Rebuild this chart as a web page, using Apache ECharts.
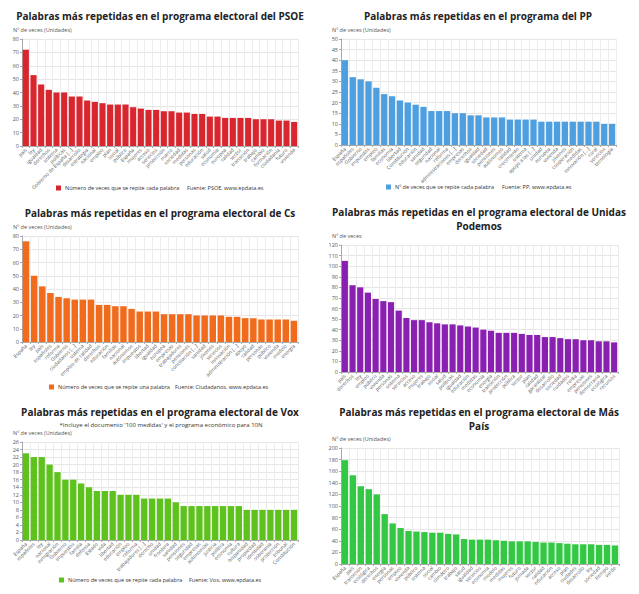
<!DOCTYPE html>
<html><head><meta charset="utf-8">
<script src="https://cdn.jsdelivr.net/npm/echarts@6/dist/echarts.min.js"></script>
<style>html,body{margin:0;padding:0;background:#fff}#c{width:639px;height:594px}</style>
</head><body><div id="c"></div>
<script>
// ---------- DATA ----------
const psoeWords = ['país','ley','igualdad','derechos','sistema','políticas','Gobierno de España [...]','desarrollo','estrategia','nacional','empleo','plan','social','público','España','mujeres','acceso','servicios','protección','marco','sociedad','medidas','personas','educación','salud','economía','europea','calidad','sector','transición','trabajo','cambio','formación','ciudadanía','futuro','vivienda'];
const psoeValues = [72,53,46,42,40,40,37,37,34,33,32,31,31,31,29,28,27,27,26,26,25,25,24,24,22,22,21,21,21,21,20,20,20,19,19,18];

const ppWords = ['España','españoles','Gobierno','impuestos','empleo','familias','economía','libertad','Constitución','educación','sanidad','seguridad','nacional','reforma','administraciones [...]','empresas','derechos','igualdad','sociedad','pensiones','autónomos','calidad','crecimiento','sistema','apoyo a las [...]','unidad','europea','vivienda','jóvenes','cooperación','medidas','innovación [...]','rural','servicios','tecnología'];
const ppValues = [40,32,31,30,27,24,23,21,20,19,18,16,16,16,15,15,14,14,13,13,13,12,12,12,12,11,11,11,11,11,11,11,11,10,10];

const csWords = ['España','ley','país','españoles','reforma','Gobierno','ciudadanos [...]','sistema','empleo de calidad','derechos','educación','familias','nacional','autónomos','impuestos','libertad','igualdad','europea','empresas','trabajadores','pensiones','conciliación [...]','sanidad','jóvenes','servicios','innovación','administración [...]','apoyo','calidad','personas','público','vivienda','modelo','energía'];
const csValues = [76,50,42,37,34,33,32,32,32,28,28,27,27,25,23,23,23,21,21,21,21,20,20,20,20,19,19,18,18,17,17,17,17,16];

const podWords = ['país','derechos','ley','empleo','público','vivienda','personas','sistema','servicios','acceso','mujeres','trabajo','social','salud','políticas','igualdad','educación','medidas','economía','energía','transición','protección','pública','sector','plan','calidad','garantizar','desarrollo','sociedad','cuidados','renta','empresas','pensiones','democracia','ecológica','recursos'];
const podValues = [105,82,80,75,69,67,66,58,51,49,49,47,46,45,45,44,43,42,40,39,37,37,37,36,35,35,33,33,32,31,31,30,30,29,29,28];

const voxWords = ['España','españoles','ley','nacional','inmigración','Gobierno','impuestos','familia','defensa','Estado','vida','libertad','educación','empleo','reforma','trabajadores [...]','derecho','unidad','frontera','sanidad','pensiones','seguridad','empresas','autonomías','justicia','política','economía','cultura','hispanidad','propiedad','identidad','soberanía','protección','tribunal','Constitución'];
const voxValues = [23,22,22,20,18,16,16,15,14,13,13,13,12,12,12,11,11,11,11,10,9,9,9,9,9,9,9,9,8,8,8,8,8,8,8];

const mpWords = ['España','país','transición','ecológica','derechos','energía','personas','empleo','vivienda','público','sistema','social','cambio','climático','trabajo','salud','igualdad','servicios','economía','modelo','medidas','mujeres','futuro','jornada','sector','calidad','educación','acceso','plan','ciudades','desarrollo','ley','sociedad','tiempo','verde'];
const mpValues = [179,153,134,129,120,86,70,62,57,56,55,54,54,52,51,43,42,42,42,41,40,39,39,39,38,37,37,36,35,34,34,34,33,33,32];

const titles = [
  'Palabras más repetidas en el programa electoral del PSOE',
  'Palabras más repetidas en el programa del PP',
  'Palabras más repetidas en el programa electoral de Cs',
  'Palabras más repetidas en el programa electoral de Unidas\nPodemos',
  'Palabras más repetidas en el programa electoral de Vox',
  'Palabras más repetidas en el programa electoral de Más\nPaís'
];
const voxNote = "*Incluye el documento '100 medidas' y el programa económico para 10N";
const axisNames = ['Nº de veces (Unidades)','Nº de veces (Unidades)','Nº de veces (Unidades)','Nº de veces','Nº de veces (Unidades)','Nº de veces (Unidades)'];
const seriesNames = ['Número de veces que se repite cada palabra','Nº de veces que se repite cada palabra','Número de veces que se repite una palabra','Número de veces que se repite cada palabra ','Número de veces que se repite cada palabra  ','Número de veces que se repite cada palabra   '];
const sources = ['Fuente: PSOE, www.epdata.es','Fuente: PP, www.epdata.es','Fuente: Ciudadanos, www.epdata.es',null,'Fuente: Vox, www.epdata.es',null];
const yMax = [80,50,80,120,26,200];
const yStep = [10,5,10,10,2,20];

// ---------- LAYOUT / STYLE ----------
const words = [psoeWords,ppWords,csWords,podWords,voxWords,mpWords];
const values = [psoeValues,ppValues,csValues,podValues,voxValues,mpValues];
const colors = ['#d8262f','#4d9fe0','#f06c1c','#8a20b2','#5ec21d','#33c843'];
const grids = [
  {left:22,top:39,width:276,height:107},
  {left:341,top:39,width:275,height:106},
  {left:22,top:236,width:276,height:106},
  {left:341,top:245,width:277,height:127},
  {left:22,top:442,width:276,height:98},
  {left:341,top:448,width:278,height:116}
];
const titlePos = [[160,16],[478,16],[160,213],[479,219],[160,412],[479,419]];
const legendPos = [[56,185],[386,184],[49,384],null,[59,577],null];
const sourcePos = [[187,188],[502,187],[175,387],null,[189,580],null];
const FONT = '"Open Sans", "Noto Sans", sans-serif';

const option = {
  animation:false,
  backgroundColor:'#fff',
  title:[], legend:[], grid:[], xAxis:[], yAxis:[], series:[], graphic:[]
};
for (let i=0;i<6;i++){
  option.title.push({text:titles[i], left:titlePos[i][0], top:titlePos[i][1], padding:0,
    textAlign:'center', textVerticalAlign:'middle',
    textStyle:{fontFamily:FONT, fontSize:10, fontWeight:'bold', color:'#222', lineHeight:14}});
  option.grid.push(Object.assign({containLabel:false}, grids[i]));
  option.xAxis.push({type:'category', gridIndex:i, data:words[i],
    axisLine:{lineStyle:{color:'#aaa', width:1}},
    axisTick:{show:true, length:2, lineStyle:{color:'#aaa'}},
    splitLine:{show:true, interval:0, lineStyle:{color:'#ececec', width:1}},
    axisLabel:{interval:0, rotate:45, fontSize:5, color:'#555', margin:3, fontFamily:FONT}});
  option.yAxis.push({type:'value', gridIndex:i, min:0, max:yMax[i], interval:yStep[i],
    name:axisNames[i], nameLocation:'end', nameGap:6,
    nameTextStyle:{fontFamily:FONT, fontSize:5.5, color:'#555', align:'left', padding:[0,0,0,-9]},
    axisLine:{show:true, lineStyle:{color:'#aaa'}},
    axisTick:{show:true, length:2, lineStyle:{color:'#aaa'}},
    splitLine:{show:true, lineStyle:{color:'#e6e6e6'}},
    axisLabel:{fontSize:5.5, color:'#555', margin:3, fontFamily:FONT}});
  option.series.push({type:'bar', name:seriesNames[i], xAxisIndex:i, yAxisIndex:i,
    data:values[i], barCategoryGap:'20%', itemStyle:{color:colors[i]}});
  if (legendPos[i]) {
    option.legend.push({data:[{name:seriesNames[i], itemStyle:{color:colors[i]}}],
      left:legendPos[i][0], top:legendPos[i][1], padding:0, itemWidth:5, itemHeight:5, itemGap:3,
      selectedMode:false, icon:'rect',
      textStyle:{fontFamily:FONT, fontSize:5.5, color:'#333', padding:[0,0,0,-1]}});
  }
  if (sources[i]) {
    option.graphic.push({type:'text', x:sourcePos[i][0], y:sourcePos[i][1],
      style:{text:sources[i], fontFamily:FONT, fontSize:5.5, fill:'#333', textVerticalAlign:'middle'}});
  }
}
option.title.push({text:voxNote, left:161, top:425, padding:0, textAlign:'center', textVerticalAlign:'middle',
  textStyle:{fontFamily:FONT, fontSize:6, fontWeight:'normal', color:'#333'}});

const chart = echarts.init(document.getElementById('c'), null, {renderer:'svg'});
chart.setOption(option);
</script>
</body></html>
